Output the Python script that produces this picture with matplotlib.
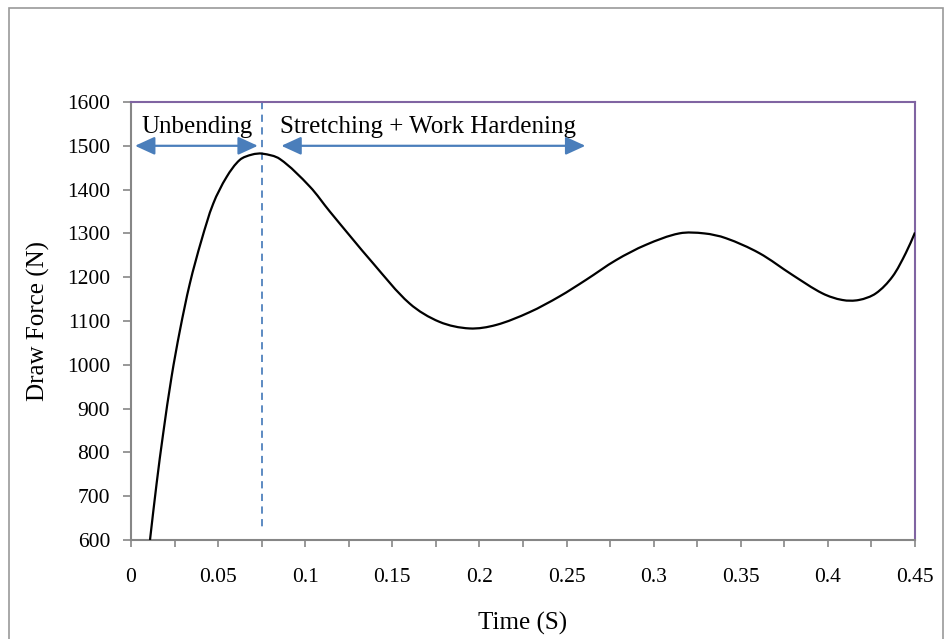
import matplotlib
matplotlib.use("Agg")
import matplotlib.pyplot as plt
import numpy as np
from matplotlib.patches import Rectangle, FancyArrowPatch, PathPatch
from matplotlib.path import Path
from matplotlib.ticker import MultipleLocator, FuncFormatter

# Draw force vs. time for the drawing process
time_s = [0.0109, 0.0147, 0.0185, 0.0233, 0.0281, 0.0338, 0.0405, 0.0472,
          0.0549, 0.0625, 0.0695, 0.0755, 0.0854, 0.1026, 0.1141, 0.1389,
          0.1599, 0.1771, 0.1943, 0.2096, 0.2287, 0.2459, 0.2612, 0.2784,
          0.2956, 0.3147, 0.3290, 0.3415, 0.3606, 0.3797, 0.3969, 0.4083,
          0.4178, 0.4275, 0.4370, 0.4447, 0.4500]
force_n = [600, 729, 844, 973, 1079, 1186, 1285, 1368,
           1429, 1468, 1480, 1482, 1470, 1407, 1350, 1232,
           1140, 1098, 1083, 1091, 1120, 1156, 1194, 1239,
           1274, 1300, 1300, 1289, 1255, 1205, 1163, 1148,
           1148, 1163, 1201, 1255, 1302]

# Stage boundaries / annotation spans
peak_time = 0.0751
unbending_span = (0.0023, 0.0728)
stretching_span = (0.0863, 0.2608)
arrow_level = 1500

plt.rcParams['font.family'] = ['Liberation Serif', 'DejaVu Serif']

W, H = 952, 639
fig = plt.figure(figsize=(W / 100, H / 100), dpi=100)
ax = fig.add_axes([131 / W, 1 - 540 / H, (915 - 131) / W, (540 - 102) / H])

# Outer chart frame
fig.patches.append(Rectangle((9 / W, -0.05), (943 - 9) / W, 1 - 8 / H + 0.05,
                             transform=fig.transFigure, fill=False,
                             edgecolor='#9a9a9a', linewidth=1.2, zorder=0))


def smooth_path(xs, ys, sx, sy):
    """Smoothed line through the points: chord-length Catmull-Rom spline,
    evaluated in screen-proportional units and written as cubic Beziers."""
    p = np.column_stack([np.asarray(xs) * sx, np.asarray(ys) * sy])
    seg = np.hypot(*np.diff(p, axis=0).T)
    t = np.concatenate([[0], np.cumsum(seg)])
    n = len(p)
    d = np.zeros_like(p)
    d[0] = (p[1] - p[0]) / (t[1] - t[0])
    d[-1] = (p[-1] - p[-2]) / (t[-1] - t[-2])
    for i in range(1, n - 1):
        d[i] = (p[i + 1] - p[i - 1]) / (t[i + 1] - t[i - 1])
    verts = [p[0]]
    codes = [Path.MOVETO]
    for i in range(n - 1):
        h = t[i + 1] - t[i]
        verts += [p[i] + d[i] * h / 3, p[i + 1] - d[i + 1] * h / 3, p[i + 1]]
        codes += [Path.CURVE4] * 3
    verts = np.array(verts) / np.array([sx, sy])
    return Path(verts, codes)


ax.set_xlim(0, 0.45)
ax.set_ylim(600, 1600)

ax.add_patch(PathPatch(smooth_path(time_s, force_n, 785 / 0.45, 438 / 1000),
                       facecolor='none', edgecolor='black', linewidth=1.6,
                       zorder=3))

# Vertical dashed line marking the force peak
ax.plot([peak_time, peak_time], [1600, 622], color='#4F81BD',
        linewidth=1.3, linestyle=(0, (4, 3)), zorder=2)

arrow_color = '#4A7EBB'
for a, b in (unbending_span, stretching_span):
    ax.add_patch(FancyArrowPatch((a, arrow_level), (b, arrow_level),
                                 arrowstyle='<|-|>,head_length=12,head_width=5.5',
                                 color=arrow_color, linewidth=1.6,
                                 shrinkA=0, shrinkB=0, zorder=4))

ax.text(0.0378, 1542, 'Unbending', fontsize=18, ha='center', va='center')
ax.text(0.1703, 1542, 'Stretching + Work Hardening', fontsize=18,
        ha='center', va='center')

ax.xaxis.set_major_locator(MultipleLocator(0.025))
ax.yaxis.set_major_locator(MultipleLocator(100))


def fmt_x(v, pos):
    k = round(v / 0.025)
    if k % 2:
        return ''
    return '{:g}'.format(round(v, 3))


ax.xaxis.set_major_formatter(FuncFormatter(fmt_x))
ax.yaxis.set_major_formatter(FuncFormatter(lambda v, p: '{:g}'.format(v)))

ax.tick_params(axis='both', labelsize=15.5, colors='black', direction='out')
ax.tick_params(axis='x', length=5, width=1.2, color='#868686', pad=15)
ax.tick_params(axis='y', length=6, width=1.2, color='#868686', pad=9)

for side in ('left', 'bottom'):
    ax.spines[side].set_color('#868686')
    ax.spines[side].set_linewidth(1.5)
for side in ('top', 'right'):
    ax.spines[side].set_color('#8064A2')
    ax.spines[side].set_linewidth(1.5)

ax.set_xlabel('Time (S)', fontsize=18, labelpad=18)
ax.set_ylabel('Draw Force (N)', fontsize=18, labelpad=12)

fig.savefig('out.png', dpi=100)
